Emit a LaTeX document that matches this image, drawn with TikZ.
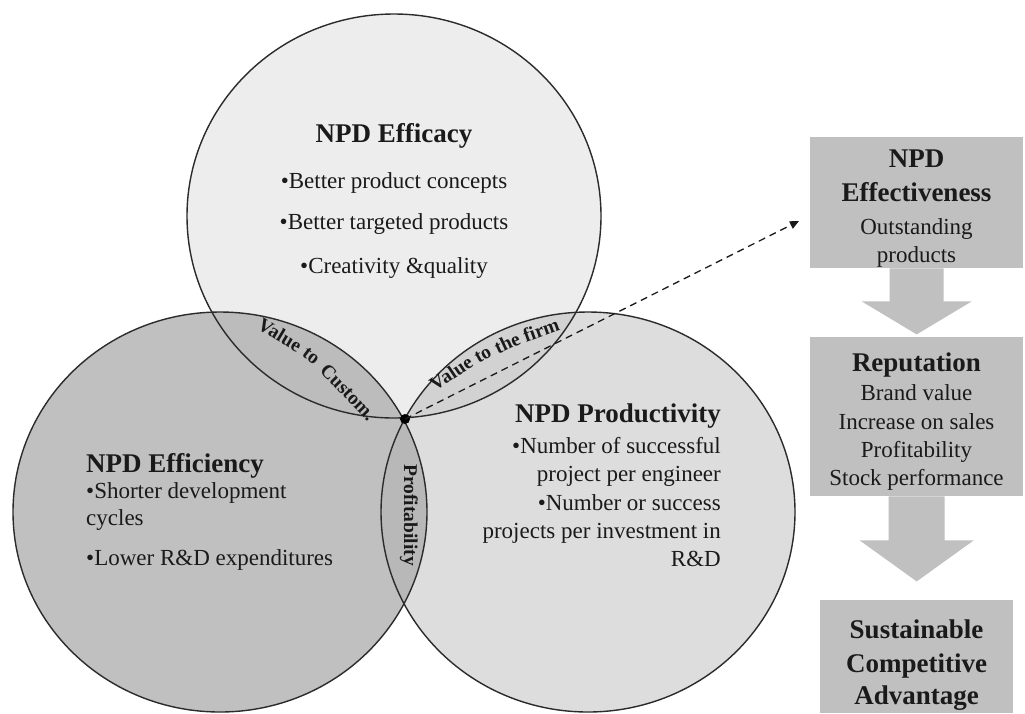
\documentclass[tikz,border=0pt]{standalone}
\usepackage{fontspec}
\setmainfont{Liberation Serif}
\usetikzlibrary{calc,arrows.meta}

\definecolor{topfill}{HTML}{EDEDED}
\definecolor{leftfill}{HTML}{C0C0C0}
\definecolor{rightfill}{HTML}{DDDDDD}
\definecolor{lensTL}{HTML}{BCBCBC}
\definecolor{lensTR}{HTML}{D2D2D2}
\definecolor{lensLR}{HTML}{B8B8B8}
\definecolor{boxfill}{HTML}{C0C0C0}
\definecolor{ink}{HTML}{1A1A1A}
\definecolor{rim}{HTML}{2B2B2B}

\newcommand\headfont{\bfseries\fontsize{27}{30}\selectfont}
\newcommand\bodyfont{\fontsize{23}{27}\selectfont}
\newcommand\lensfont{\bfseries\fontsize{19.5}{20}\selectfont}

\begin{document}
\begin{tikzpicture}[x=1pt,y=-1pt,
  head/.style={font=\headfont, text=ink, inner sep=0pt, anchor=base},
  body/.style={font=\bodyfont, text=ink, inner sep=0pt, anchor=base},
  lensword/.style={font=\lensfont, text=ink, inner sep=0pt},
  rimline/.style={draw=rim, line width=1.4pt},
  box/.style={fill=boxfill, inner sep=0pt, anchor=north west},
]
\useasboundingbox[fill=white] (0,0) rectangle (1025,713);

% --- the three overlapping discs ---
\fill[topfill]   (394,216) ellipse [x radius=207, y radius=202];
\fill[leftfill]  (220,512) ellipse [x radius=207, y radius=200];
\fill[rightfill] (588,512) ellipse [x radius=207, y radius=200];
\begin{scope}
  \clip (394,216) ellipse [x radius=207, y radius=202];
  \fill[lensTL] (220,512) ellipse [x radius=207, y radius=200];
  \fill[lensTR] (588,512) ellipse [x radius=207, y radius=200];
\end{scope}
\begin{scope}
  \clip (220,512) ellipse [x radius=207, y radius=200];
  \fill[lensLR] (588,512) ellipse [x radius=207, y radius=200];
\end{scope}
\draw[rimline] (394,216) ellipse [x radius=207, y radius=202];
\draw[rimline] (220,512) ellipse [x radius=207, y radius=200];
\draw[rimline] (588,512) ellipse [x radius=207, y radius=200];

% --- NPD Efficacy ---
\node[head] (efficacy) at (394,142) {NPD Efficacy};
\foreach \y/\txt [count=\i] in {188/{•Better product concepts},
                                229/{•Better targeted products},
                                273/{•Creativity \&quality}}
  \node[body] (efficacy\i) at (394,\y) {\txt};

% --- NPD Efficiency ---
\node[head, anchor=base west] (efficiency) at (86,472) {NPD Efficiency};
\foreach \y/\txt [count=\i] in {498/{•Shorter development},
                                525/{cycles},
                                565/{•Lower R\&D expenditures}}
  \node[body, anchor=base west] (efficiency\i) at (86,\y) {\txt};

% --- NPD Productivity ---
\node[head, anchor=base east] (productivity) at (721,422) {NPD Productivity};
\foreach \y/\txt [count=\i] in {453/{•Number of successful},
                                481/{project per engineer},
                                510/{•Number or success},
                                538/{projects per investment in},
                                566/{R\&D}}
  \node[body, anchor=base east] (productivity\i) at (721,\y) {\txt};

% --- overlap labels, word by word along the lens curves ---
\node[lensword, rotate=-31] (cust1) at (280,335) {Value};
\node[lensword, rotate=-37] (cust2) at (311,356) {to};
\node[lensword, rotate=-46] (cust3) at (348,392) {Custom.};

\node[lensword, rotate=34] (firm1) at (451,373) {Value};
\node[lensword, rotate=29] (firm2) at (483,355) {to};
\node[lensword, rotate=25] (firm3) at (507,343) {the};
\node[lensword, rotate=20] (firm4) at (541,330) {firm};

\node[lensword, rotate=-90] (profit) at (409,515) {Profitability};

% --- centre point and link to the outcome chain ---
\node[circle, fill=black, inner sep=0pt, minimum size=10pt] (dot) at (405,419) {};
\coordinate (tip) at (799,221);
\draw[ink, line width=1.3pt, dash pattern=on 7pt off 5pt,
      -{Triangle[length=9pt,width=8pt]}] (dot.center) -- (tip);

% --- outcome chain ---
\node[box, minimum width=213pt, minimum height=131pt] (b1) at (810,137) {};
\node[box, minimum width=213pt, minimum height=159pt] (b2) at (810,337) {};
\node[box, minimum width=193pt, minimum height=113pt] (b3) at (820,600) {};

\fill[boxfill] ($(b1.south)+(-27,0)$) -- ($(b1.south)+(27,0)$) -- ($(b1.south)+(27,33)$)
  -- ($(b1.south)+(55,33)$) -- ($(b1.south)+(0,66)$) -- ($(b1.south)+(-55,33)$)
  -- ($(b1.south)+(-27,33)$) -- cycle;
\fill[boxfill] ($(b2.south)+(-28,0)$) -- ($(b2.south)+(28,0)$) -- ($(b2.south)+(28,44)$)
  -- ($(b2.south)+(57,44)$) -- ($(b2.south)+(0,85)$) -- ($(b2.south)+(-57,44)$)
  -- ($(b2.south)+(-28,44)$) -- cycle;

\node[head] (eff1) at (916.5,167) {NPD};
\node[head] (eff2) at (916.5,201) {Effectiveness};
\node[body] (eff3) at (916.5,234) {Outstanding};
\node[body] (eff4) at (916.5,262) {products};

\node[head] (rep) at (916.5,371) {Reputation};
\foreach \y/\txt [count=\i] in {400/{Brand value},
                                429/{Increase on sales},
                                457/{Profitability},
                                485/{Stock performance}}
  \node[body] (rep\i) at (916.5,\y) {\txt};

\node[head] (sca1) at (916.5,638) {Sustainable};
\node[head] (sca2) at (916.5,672) {Competitive};
\node[head] (sca3) at (916.5,704) {Advantage};
\end{tikzpicture}
\end{document}
